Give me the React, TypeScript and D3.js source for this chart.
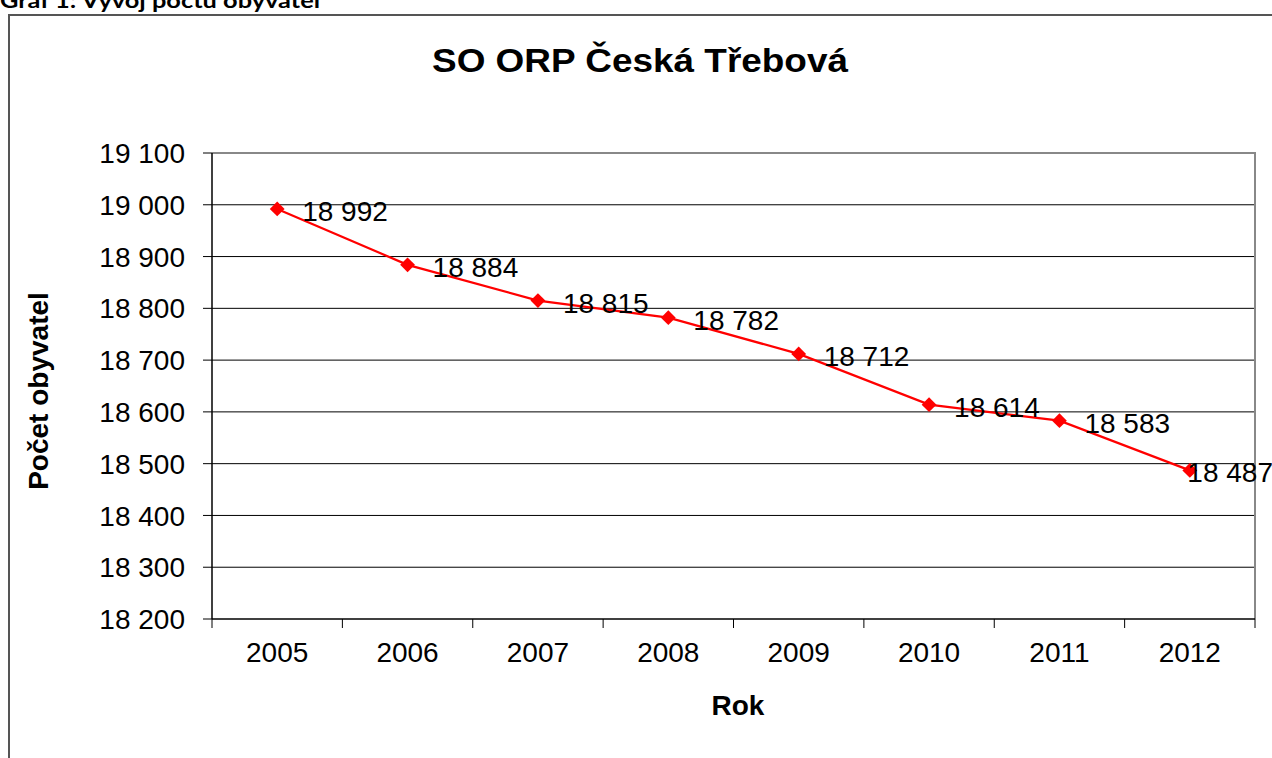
import { useEffect, useRef } from 'react';
import * as d3 from 'd3';

const years = ['2005', '2006', '2007', '2008', '2009', '2010', '2011', '2012'];
const population = [18992, 18884, 18815, 18782, 18712, 18614, 18583, 18487];
const yTicks = [18200, 18300, 18400, 18500, 18600, 18700, 18800, 18900, 19000, 19100];

// numbers like "18 992" (czech thousands separator)
const fmt = (v: number) => d3.format(',')(v).replace(',', ' ');

export default function App() {
  const svgRef = useRef<SVGSVGElement>(null);

  useEffect(() => {
    document.body.style.margin = '0';
    if (!svgRef.current) return;
    const svg = d3.select(svgRef.current);
    svg.selectAll('*').remove();

    const width = 1272;
    const height = 758;
    const plot = { left: 212, right: 1255, top: 153, bottom: 619 };
    const font = 'Arial, "Liberation Sans", sans-serif';
    const fs = 28;

    svg.append('rect').attr('width', width).attr('height', height).attr('fill', '#fff');

    // caption above the chart box (cut off at top, like the source)
    svg.append('text')
      .attr('x', 0)
      .attr('y', 8)
      .attr('font-family', 'Lato, "Open Sans", sans-serif')
      .attr('font-size', 21)
      .attr('font-weight', 700)
      .attr('textLength', 320)
      .attr('lengthAdjust', 'spacingAndGlyphs')
      .text('Graf 1: Vývoj počtu obyvatel');

    // outer chart frame
    svg.append('rect')
      .attr('x', 9)
      .attr('y', 15)
      .attr('width', 1300)
      .attr('height', 800)
      .attr('fill', '#fff')
      .attr('stroke', '#555')
      .attr('stroke-width', 2);

    const x = d3.scaleBand<string>().domain(years).range([plot.left, plot.right]).padding(0);
    const y = d3.scaleLinear().domain([18200, 19100]).range([plot.bottom, plot.top]);

    const g = svg.append('g');

    // grid lines
    g.selectAll('.grid')
      .data(yTicks.slice(1, -1))
      .join('line')
      .attr('x1', plot.left)
      .attr('x2', plot.right)
      .attr('y1', d => y(d))
      .attr('y2', d => y(d))
      .attr('stroke', '#000')
      .attr('stroke-width', 1);

    // plot area border top/right (grey)
    g.append('path')
      .attr('d', `M${plot.left},${y(19100)} H${plot.right} V${plot.bottom}`)
      .attr('fill', 'none')
      .attr('stroke', '#888')
      .attr('stroke-width', 2);

    // y axis
    g.append('line')
      .attr('x1', plot.left).attr('x2', plot.left)
      .attr('y1', plot.top).attr('y2', plot.bottom)
      .attr('stroke', '#000').attr('stroke-width', 1.5);
    g.selectAll('.ytick')
      .data(yTicks)
      .join('line')
      .attr('x1', plot.left - 9)
      .attr('x2', plot.left)
      .attr('y1', d => y(d))
      .attr('y2', d => y(d))
      .attr('stroke', '#000');
    g.selectAll('.ylab')
      .data(yTicks)
      .join('text')
      .attr('x', 185)
      .attr('y', d => y(d))
      .attr('dy', '0.36em')
      .attr('text-anchor', 'end')
      .attr('font-family', font)
      .attr('font-size', fs)
      .attr('fill', '#000')
      .text(d => fmt(d));

    // x axis
    g.append('line')
      .attr('x1', plot.left).attr('x2', plot.right)
      .attr('y1', plot.bottom).attr('y2', plot.bottom)
      .attr('stroke', '#000').attr('stroke-width', 1.5);
    const bounds = [...years.map(d => x(d)!), plot.right];
    g.selectAll('.xtick')
      .data(bounds)
      .join('line')
      .attr('x1', d => d)
      .attr('x2', d => d)
      .attr('y1', plot.bottom)
      .attr('y2', plot.bottom + 9)
      .attr('stroke', '#000');
    g.selectAll('.xlab')
      .data(years)
      .join('text')
      .attr('x', d => x(d)! + x.bandwidth() / 2)
      .attr('y', 652)
      .attr('dy', '0.36em')
      .attr('text-anchor', 'middle')
      .attr('font-family', font)
      .attr('font-size', fs)
      .attr('fill', '#000')
      .text(d => d);

    // series line
    const cx = (i: number) => x(years[i])! + x.bandwidth() / 2;
    const line = d3.line<number>().x((_, i) => cx(i)).y(d => y(d));
    g.append('path')
      .datum(population)
      .attr('d', line)
      .attr('fill', 'none')
      .attr('stroke', '#ff0000')
      .attr('stroke-width', 2.2);

    // diamond markers
    const diamond = d3.symbol().type(d3.symbolDiamond2).size(140);
    g.selectAll('.marker')
      .data(population)
      .join('path')
      .attr('transform', (d, i) => `translate(${cx(i)},${y(d)})`)
      .attr('d', diamond)
      .attr('fill', '#ff0000');

    // data labels, right of the point; the last one is pushed back inside the chart
    const last = population.length - 1;
    g.selectAll('.dlab')
      .data(population)
      .join('text')
      .attr('x', (_, i) => (i === last ? width + 1 : cx(i) + 25))
      .attr('y', d => y(d) + 2)
      .attr('dy', '0.36em')
      .attr('text-anchor', (_, i) => (i === last ? 'end' : 'start'))
      .attr('font-family', font)
      .attr('font-size', fs)
      .attr('fill', '#000')
      .text(d => fmt(d));

    // title
    svg.append('text')
      .attr('x', 640)
      .attr('y', 72)
      .attr('text-anchor', 'middle')
      .attr('font-family', font)
      .attr('font-size', 33)
      .attr('font-weight', 700)
      .attr('textLength', 416)
      .attr('lengthAdjust', 'spacingAndGlyphs')
      .text('SO ORP Česká Třebová');

    // axis titles
    svg.append('text')
      .attr('transform', `translate(48,${(plot.top + plot.bottom) / 2 + 5}) rotate(-90)`)
      .attr('text-anchor', 'middle')
      .attr('font-family', font)
      .attr('font-size', fs)
      .attr('font-weight', 700)
      .text('Počet obyvatel');

    svg.append('text')
      .attr('x', 738)
      .attr('y', 715)
      .attr('text-anchor', 'middle')
      .attr('font-family', font)
      .attr('font-size', fs)
      .attr('font-weight', 700)
      .text('Rok');
  }, []);

  return <svg ref={svgRef} width={1272} height={758} style={{ display: 'block' }} />;
}
